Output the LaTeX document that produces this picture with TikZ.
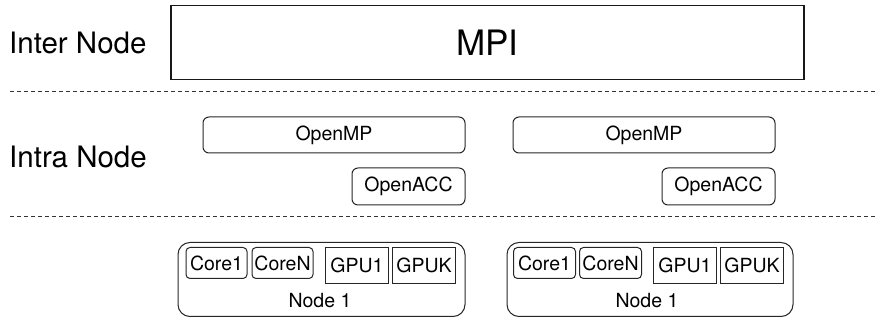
\documentclass[tikz,border=0pt]{standalone}
\usepackage{fontspec}
\setmainfont{TeX Gyre Heros}
\begin{document}
\begin{tikzpicture}[x=1pt,y=-1pt,
  lbl/.style={font=\fontsize{29.5}{31}\selectfont, anchor=west, inner sep=0},
  box/.style={draw=black!90, line width=1.1pt, inner sep=0},
  rbox/.style={draw=black!85, line width=1pt, rounded corners=6pt, inner sep=0, font=\fontsize{19.5}{21}\selectfont},
  sbox/.style={draw=black!85, line width=1pt, inner sep=0, font=\fontsize{19.5}{21}\selectfont},
  sep/.style={draw=black!80, line width=0.9pt, dash pattern=on 4pt off 3pt}]
\useasboundingbox (0,0) rectangle (876,320);
% labels
\node[lbl] (inter) at (9,43) {Inter Node};
\node[lbl] (intra) at (9,157) {Intra Node};
% MPI
\node[box, minimum width=633, minimum height=74, font=\fontsize{35}{37}\selectfont] (mpi) at (487.5,42.5) {MPI};
% separators
\coordinate (s1a) at (10,91); \coordinate (s1b) at (876,91);
\coordinate (s2a) at (10,216); \coordinate (s2b) at (876,216);
\draw[sep] (s1a) -- (s1b);
\draw[sep] (s2a) -- (s2b);
% OpenMP / OpenACC
\node[rbox, minimum width=262, minimum height=36] (omp1) at (334,135) {OpenMP};
\node[rbox, minimum width=113, minimum height=37] (acc1) at (408.5,186.5) {OpenACC};
\node[rbox, minimum width=262, minimum height=36] (omp2) at (644,135) {OpenMP};
\node[rbox, minimum width=113, minimum height=37] (acc2) at (718.5,186.5) {OpenACC};
% Node 1
\node[draw=black!85, line width=1pt, rounded corners=12pt, minimum width=287, minimum height=74, inner sep=0] (n1) at (321.5,279.5) {};
\node[font=\fontsize{19.5}{21}\selectfont, inner sep=0] (n1l) at (320,301) {Node 1};
\node[rbox, rounded corners=4pt, minimum width=61, minimum height=31] (c11) at (216.5,263) {Core1};
\node[rbox, rounded corners=4pt, minimum width=61, minimum height=31] (c1n) at (282.5,263) {CoreN};
\node[sbox, minimum width=63, minimum height=36] (g11) at (357,265.5) {GPU1};
\node[sbox, minimum width=63, minimum height=36] (g1k) at (424,265.5) {GPUK};
% Node 2
\node[draw=black!85, line width=1pt, rounded corners=12pt, minimum width=286, minimum height=74, inner sep=0] (n2) at (650,279.5) {};
\node[font=\fontsize{19.5}{21}\selectfont, inner sep=0] (n2l) at (647,301) {Node 1};
\node[rbox, rounded corners=4pt, minimum width=62, minimum height=31] (c21) at (544.5,263) {Core1};
\node[rbox, rounded corners=4pt, minimum width=62, minimum height=31] (c2n) at (610.5,263) {CoreN};
\node[sbox, minimum width=63, minimum height=36] (g21) at (685,265.5) {GPU1};
\node[sbox, minimum width=63, minimum height=36] (g2k) at (752,265.5) {GPUK};
\end{tikzpicture}
\end{document}
